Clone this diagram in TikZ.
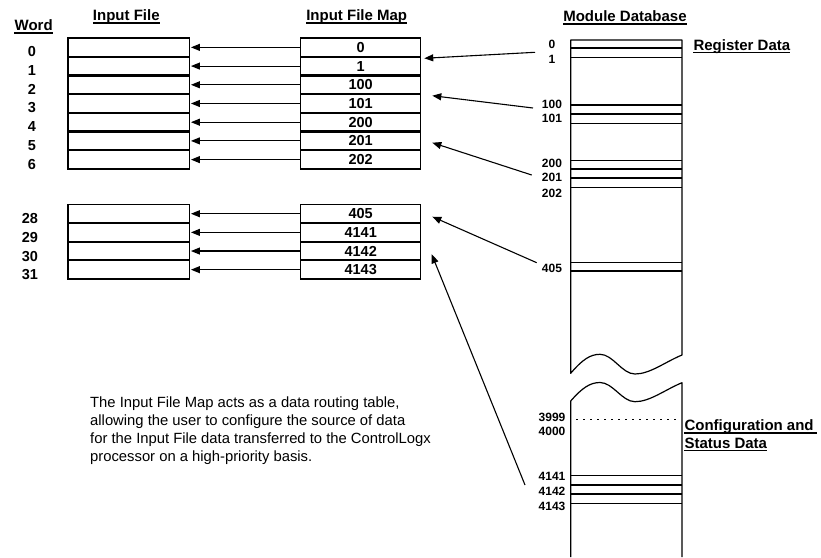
\documentclass[tikz,border=0pt]{standalone}
\usepackage{fontspec}
\setmainfont{Liberation Sans}
\usetikzlibrary{arrows.meta,calc}
\begin{document}
\begin{tikzpicture}[x=1pt,y=-1pt,
  hdr/.style={font=\fontsize{15}{18}\selectfont\bfseries, inner sep=0pt},
  num/.style={font=\fontsize{14.5}{17}\selectfont\bfseries, inner sep=0pt},
  dbl/.style={font=\fontsize{12}{14}\selectfont\bfseries, inner sep=0pt},
  body/.style={font=\fontsize{14.8}{18}\selectfont, inner sep=0pt, anchor=base west},
  fcell/.style={draw, line width=1.2pt, minimum width=121.3pt, inner sep=0pt},
  mcell/.style={draw, line width=1.2pt, minimum width=120pt, inner sep=0pt,
                font=\fontsize{14.5}{17}\selectfont\bfseries},
  arr/.style={line width=1.1pt, -{Triangle[length=9pt,width=7pt]}},
  thin/.style={line width=1.2pt},
  thick/.style={line width=2.2pt},
  ul/.style={line width=1.3pt},
]
\useasboundingbox (0,0) rectangle (821,557);

% headers
\node[hdr, anchor=base] (hword) at (33.7,30.7) {Word};
\node[hdr, anchor=base] (hin) at (126.3,20.7) {Input File};
\node[hdr, anchor=base] (hmap) at (356.7,20.7) {Input File Map};
\node[hdr, anchor=base] (hdb) at (625,21.7) {Module Database};
\node[hdr, anchor=base west] (hreg) at (693.3,50) {Register Data};
\node[hdr, anchor=base west] (hcfg) at (684.3,430.7) {Configuration and};
\node[hdr, anchor=base west] (hst) at (684.3,448.3) {Status Data};
\foreach \n in {hword,hin,hmap,hdb,hreg,hst}
  \draw[ul] ([yshift=-2.4pt]\n.base west) -- ([yshift=-2.4pt]\n.base east);
\draw[ul] ([yshift=-2.4pt]hcfg.base west) -- ([yshift=-2.4pt,xshift=3pt]hcfg.base east);

% group 1
\foreach \w/\t [count=\k from 0] in {0/0,1/1,2/100,3/101,4/200,5/201,6/202}{
  \pgfmathsetmacro{\yc}{38+18.71*\k+9.355}
  \node[fcell, minimum height=18.71pt] (f\w) at (128.7,\yc) {};
  \node[mcell, minimum height=18.71pt] (m\w) at (360.7,\yc) {\t};
  \node[num] (w\w) at (32,\yc+4.5) {\w};
  \draw[arr, shorten >=1pt] (m\w.west) -- (f\w.east);
}
\foreach \k in {1,...,6}{
  \pgfmathsetmacro{\yy}{38+18.71*\k}
  \draw[thick] (68,\yy) -- (189.3,\yy);
  \draw[thick] (300.7,\yy) -- (420.7,\yy);
}
% group 2
\foreach \w/\t [count=\k from 0] in {28/405,29/4141,30/4142,31/4143}{
  \pgfmathsetmacro{\yc}{204.4+18.65*\k+9.325}
  \node[fcell, minimum height=18.65pt] (f\w) at (128.7,\yc) {};
  \node[mcell, minimum height=18.65pt] (m\w) at (360.7,\yc) {\t};
  \node[num] (w\w) at (30,\yc+5) {\w};
  \draw[arr, shorten >=1pt] (m\w.west) -- (f\w.east);
}
\foreach \k in {1,...,3}{
  \pgfmathsetmacro{\yy}{204.4+18.65*\k}
  \draw[thick] (68,\yy) -- (189.3,\yy);
  \draw[thick] (300.7,\yy) -- (420.7,\yy);
}

% module database column
\draw[thin, line join=round] (570.7,40) -- (570.7,373.3)
  .. controls (582,360) and (590,354.3) .. (600,354.3)
  .. controls (613,354.3) and (622,374) .. (635,374)
  .. controls (650,374) and (665,362) .. (682,355) -- (682,40) -- cycle;
\draw[thin, line join=round] (570.7,557) -- (570.7,401)
  .. controls (582,388) and (590,382.5) .. (600,382.5)
  .. controls (613,382.5) and (622,401.7) .. (635,401.7)
  .. controls (650,401.7) and (665,389.7) .. (682,382.7) -- (682,557);
\foreach \y in {57.7,105,123.3,160.7,187.3,262.3,475.7,503.7}
  \draw[thin] (570.7,\y) -- (682,\y);
\foreach \y in {48.3,113.7,169.3,178,271.3,485,494.3}
  \draw[thick] (570.7,\y) -- (682,\y);
\draw[line width=1.8pt, dash pattern=on 1.8pt off 5.2pt] (576,419.5) -- (677,419.5);

% database labels
\foreach \n/\y in {0/44,1/59,100/104,101/118,200/163,201/177,202/193,405/268,3999/417,4000/431,4141/476,4142/491,4143/506}
  \node[dbl] (d\n) at (552,\y) {\n};

% arrows from database to map
\coordinate (s1) at (535,52.3);   \coordinate (t1) at (424.3,58.3);
\coordinate (s2) at (533,108);    \coordinate (t2) at (432.3,95.7);
\coordinate (s3) at (531.7,175);  \coordinate (t3) at (432.3,142.7);
\coordinate (s4) at (536.7,262.7);\coordinate (t4) at (432.3,216.7);
\coordinate (s5) at (525,485);    \coordinate (t5) at (431.7,254.3);
\foreach \i in {1,...,5} \draw[arr] (s\i) -- (t\i);

% body text
\node[body] (b1) at (90,407) {The Input File Map acts as a data routing table,};
\node[body] (b2) at (90,425) {allowing the user to configure the source of data};
\node[body] (b3) at (90,443) {for the Input File data transferred to the ControlLogx};
\node[body] (b4) at (90,461) {processor on a high-priority basis.};
\end{tikzpicture}
\end{document}
